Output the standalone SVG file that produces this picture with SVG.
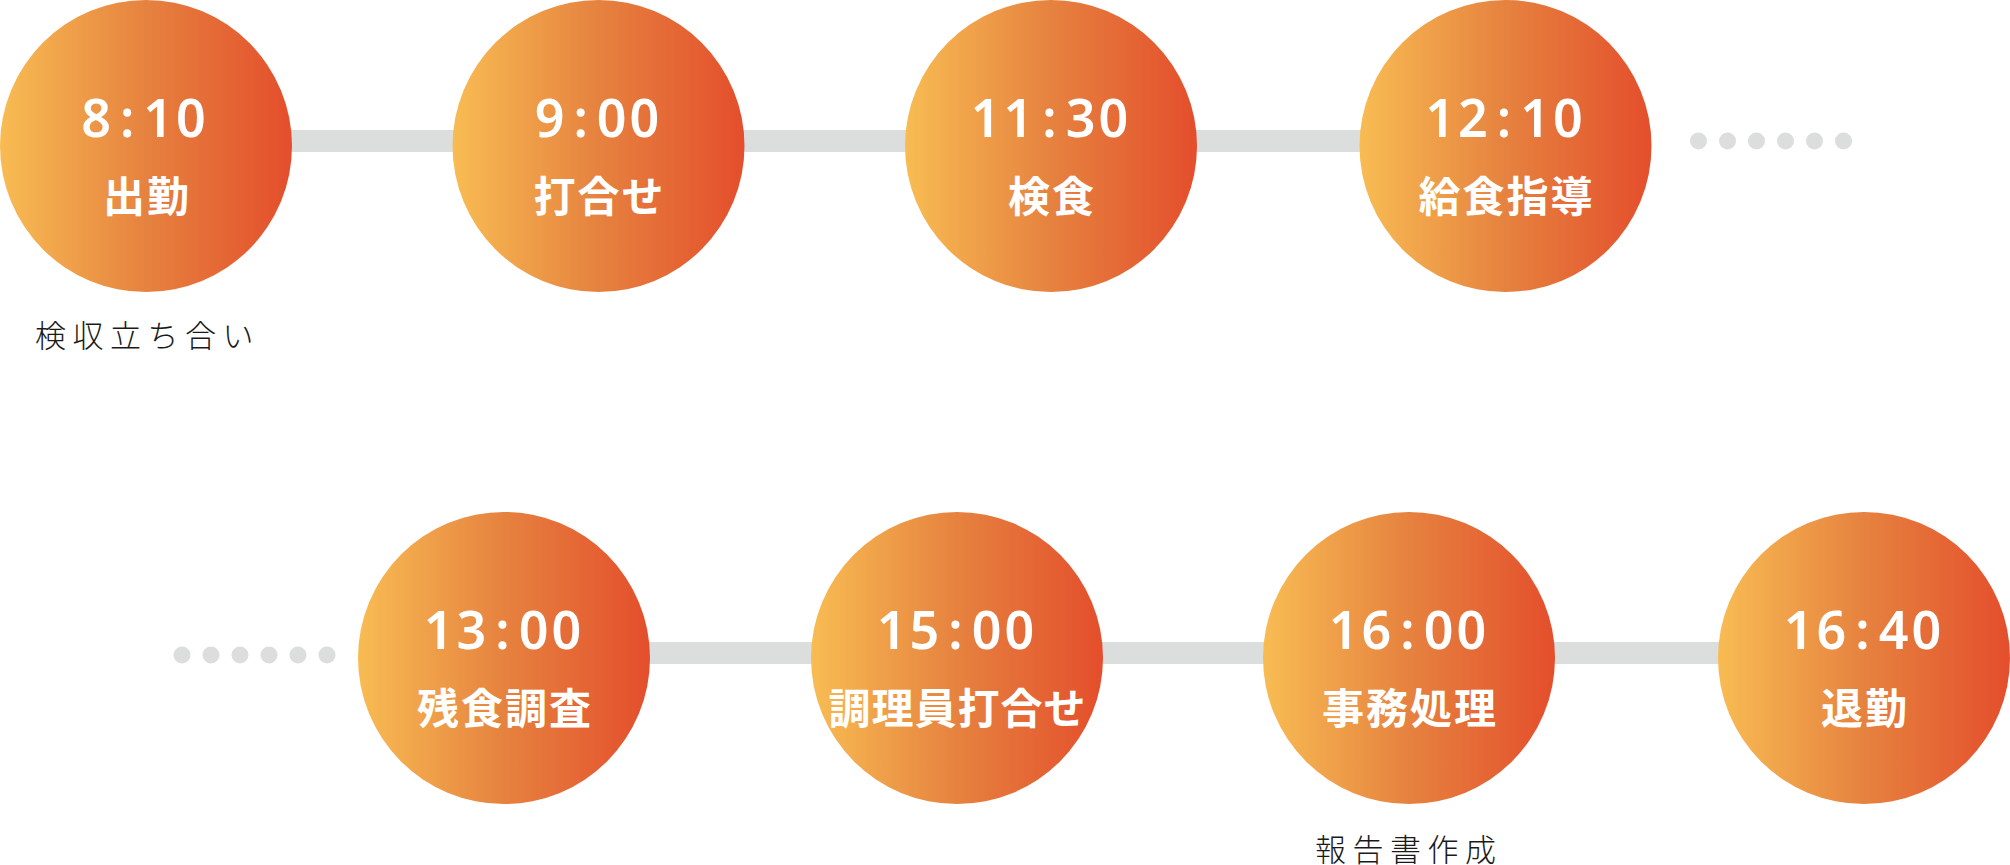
<svg xmlns="http://www.w3.org/2000/svg" width="2010" height="865" viewBox="0 0 2010 865">
<style>
.bar{fill:#dcdddd}
.dot{fill:#dcdddd}
.circ{fill:url(#og)}
.time{font-family:"Noto Sans","Noto Sans CJK JP",sans-serif;font-weight:600;font-size:52px;fill:#fff;text-anchor:middle;letter-spacing:3px}
.name{font-family:"Noto Sans CJK JP",sans-serif;font-weight:700;font-size:42px;fill:#fff;text-anchor:middle;letter-spacing:2px}
.name.tight{letter-spacing:1px}
.note{font-family:"Noto Sans CJK JP",sans-serif;font-weight:300;font-size:31px;fill:#1a1a1a;letter-spacing:6.5px}
</style>
<defs>
<linearGradient id="og" x1="0" y1="0" x2="1" y2="0">
<stop offset="0" stop-color="#f8bc53"/>
<stop offset="0.5" stop-color="#e6823f"/>
<stop offset="1" stop-color="#e44e2c"/>
</linearGradient>
</defs>
<rect width="2010" height="865" fill="#fff"/>
<g id="connectors">
<rect class="bar" x="146" y="130" width="1360" height="22"/>
<rect class="bar" x="504" y="642" width="1360" height="22"/>
<g id="dots-top">
<circle class="dot" cx="1698.5" cy="141" r="8.5"/>
<circle class="dot" cx="1727.5" cy="141" r="8.5"/>
<circle class="dot" cx="1756.5" cy="141" r="8.5"/>
<circle class="dot" cx="1785.5" cy="141" r="8.5"/>
<circle class="dot" cx="1814.5" cy="141" r="8.5"/>
<circle class="dot" cx="1843.5" cy="141" r="8.5"/>
</g>
<g id="dots-bottom">
<circle class="dot" cx="182" cy="655" r="8.5"/>
<circle class="dot" cx="211" cy="655" r="8.5"/>
<circle class="dot" cx="240" cy="655" r="8.5"/>
<circle class="dot" cx="269" cy="655" r="8.5"/>
<circle class="dot" cx="298" cy="655" r="8.5"/>
<circle class="dot" cx="327" cy="655" r="8.5"/>
</g>
</g>
<g id="n1">
<circle class="circ" cx="146" cy="146" r="146"/>
<text class="time" x="145" y="137">8<tspan dx="6">:</tspan><tspan dx="6">10</tspan></text>
<text class="name" x="147" y="212">出勤</text>
<text class="note" x="35" y="347">検収立ち合い</text>
</g>
<g id="n2">
<circle class="circ" cx="598.5" cy="146" r="146"/>
<text class="time" x="598.5" y="137">9<tspan dx="6">:</tspan><tspan dx="6">00</tspan></text>
<text class="name" x="599.5" y="212">打合せ</text>
</g>
<g id="n3">
<circle class="circ" cx="1051" cy="146" r="146"/>
<text class="time" x="1051" y="137">11<tspan dx="6">:</tspan><tspan dx="6">30</tspan></text>
<text class="name" x="1052" y="212">検食</text>
</g>
<g id="n4">
<circle class="circ" cx="1505.5" cy="146" r="146"/>
<text class="time" x="1505.5" y="137">12<tspan dx="6">:</tspan><tspan dx="6">10</tspan></text>
<text class="name" x="1506.5" y="212">給食指導</text>
</g>
<g id="n5">
<circle class="circ" cx="504" cy="658" r="146"/>
<text class="time" x="504" y="649">13<tspan dx="6">:</tspan><tspan dx="6">00</tspan></text>
<text class="name" x="505" y="724">残食調査</text>
</g>
<g id="n6">
<circle class="circ" cx="957" cy="658" r="146"/>
<text class="time" x="957" y="649">15<tspan dx="6">:</tspan><tspan dx="6">00</tspan></text>
<text class="name tight" x="957.5" y="724">調理員打合せ</text>
</g>
<g id="n7">
<circle class="circ" cx="1409" cy="658" r="146"/>
<text class="time" x="1409" y="649">16<tspan dx="6">:</tspan><tspan dx="6">00</tspan></text>
<text class="name" x="1410" y="724">事務処理</text>
<text class="note" x="1315" y="861">報告書作成</text>
</g>
<g id="n8">
<circle class="circ" cx="1864" cy="658" r="146"/>
<text class="time" x="1864" y="649">16<tspan dx="6">:</tspan><tspan dx="6">40</tspan></text>
<text class="name" x="1865" y="724">退勤</text>
</g>
</svg>
